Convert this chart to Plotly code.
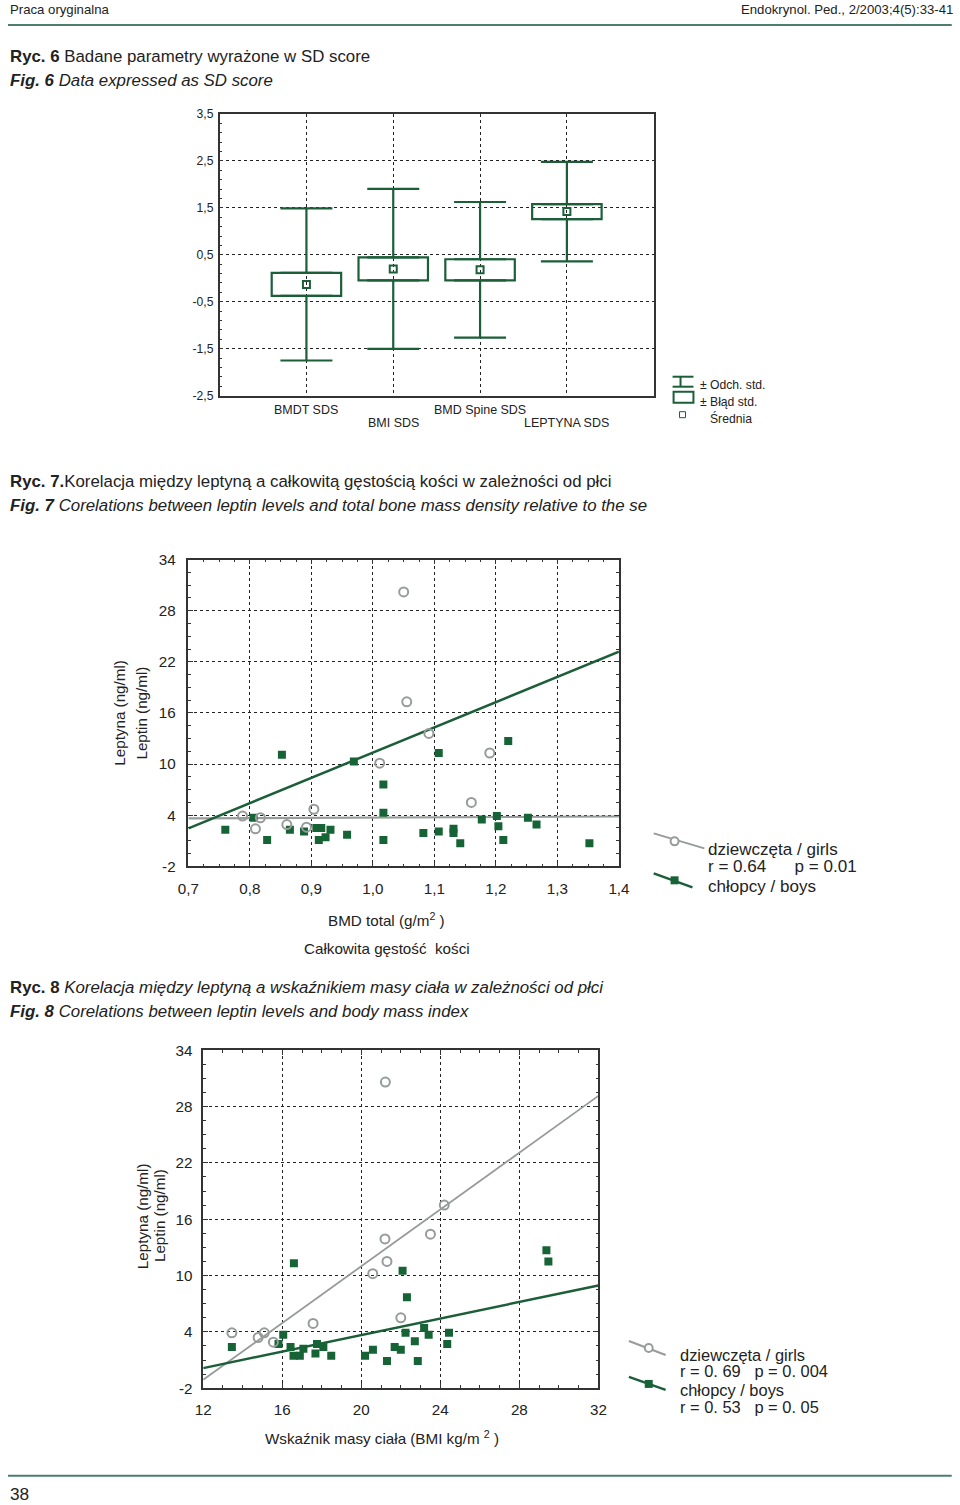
import plotly.graph_objects as go

# The page is photographed with an 8 px body margin and a slight down-scale,
# so reference pixel positions are mapped back into figure coordinates.
W, H = 960, 1505
OFF = 8
SX, SY = 960 / 976, 1505 / 1521
FS = 1 / 0.986   # font compensation for the down-scale

# ---------------- Fig. 6 data (mean, ± SE box, ± SD whiskers) ----------------
box_categories = ["BMDT SDS", "BMI SDS", "BMD Spine SDS", "LEPTYNA SDS"]
box_mean = [-0.13, 0.20, 0.18, 1.42]
box_se = [0.245, 0.245, 0.225, 0.16]
box_sd = [1.62, 1.705, 1.445, 1.06]
box_yticks = [-2.5, -1.5, -0.5, 0.5, 1.5, 2.5, 3.5]
box_ytick_labels = ["-2,5", "-1,5", "-0,5", "0,5", "1,5", "2,5", "3,5"]

# ---------------- Fig. 7 data (leptin vs BMD total) ----------------
girls7_bmd = [1.050, 1.055, 1.011, 0.904, 0.788, 0.817, 0.809, 0.860, 0.892, 1.091, 1.190, 1.160]
girls7_leptin = [30.2, 17.3, 10.1, 4.7, 3.9, 3.7, 2.4, 2.9, 2.6, 13.6, 11.3, 5.5]
boys7_bmd = [0.760, 0.852, 0.806, 0.828, 0.865, 0.888, 0.908, 0.916, 0.931, 0.912,
             0.923, 0.958, 0.969, 1.017, 1.017, 1.017, 1.082, 1.107, 1.107, 1.131,
             1.131, 1.142, 1.177, 1.2015, 1.204, 1.212, 1.220, 1.252, 1.266, 1.352]
boys7_leptin = [2.3, 11.1, 3.7, 1.1, 2.3, 2.1, 2.5, 2.5, 2.3, 1.1,
                1.4, 1.7, 10.3, 7.6, 4.3, 1.1, 1.9, 2.1, 11.3, 2.4,
                1.9, 0.7, 3.5, 3.9, 2.7, 1.1, 12.7, 3.7, 2.9, 0.7]
girls7_fit = (3.40, 0.32)      # intercept, slope
boys7_fit = (-18.28, 29.63)
bmd_range = [0.7, 1.4]
bmd_ticks = [0.7, 0.8, 0.9, 1.0, 1.1, 1.2, 1.3, 1.4]
bmd_tick_labels = ["0,7", "0,8", "0,9", "1,0", "1,1", "1,2", "1,3", "1,4"]
leptin_range = [-2, 34]
leptin_ticks = [-2, 4, 10, 16, 22, 28, 34]
leptin_tick_labels = ["-2", "4", "10", "16", "22", "28", "34"]

# ---------------- Fig. 8 data (leptin vs BMI) ----------------
girls8_bmi = [21.22, 24.20, 21.20, 23.50, 21.30, 20.58, 22.00, 17.56, 13.45, 14.78, 15.09, 15.55]
girls8_leptin = [30.6, 17.5, 13.9, 14.4, 11.5, 10.2, 5.5, 4.9, 3.9, 3.4, 3.9, 2.9]
boys8_bmi = [13.45, 16.59, 16.05, 15.81, 16.42, 16.57, 16.89, 17.07, 17.68, 17.76,
             18.08, 18.48, 20.19, 20.59, 21.30, 21.69, 22.09, 22.31, 22.00, 22.24,
             22.71, 22.86, 23.18, 23.41, 24.44, 24.35, 29.37, 29.47]
boys8_leptin = [2.4, 11.3, 3.7, 2.7, 2.4, 1.45, 1.45, 2.2, 1.7, 2.7,
                2.4, 1.45, 1.45, 2.1, 0.9, 2.4, 10.5, 7.7, 2.1, 3.9,
                3.0, 0.9, 4.4, 3.7, 3.9, 2.7, 12.7, 11.5]
girls8_fit = (-19.25, 1.512)
boys8_fit = (-5.146, 0.4405)
bmi_range = [12, 32]
bmi_ticks = [12, 16, 20, 24, 28, 32]

# ---------------- styling ----------------
GREEN = "#1b5e38"
GREEN_PT = "#166335"
GRAY = "#979c9a"
RULE = "#4d7d6b"
CHART = "Liberation Sans, Arial, sans-serif"
NARROW = "Liberation Sans Narrow, Arial Narrow, Liberation Sans, sans-serif"
TXT = "#222222"


def fx(p):
    return (p - OFF) / SX / W


def fy(p):
    return 1 - (p - OFF) / SY / H


def fs(s):
    return round(s * FS, 2)


fig = go.Figure()

# ---- Fig 6 traces ----
cat_x = list(range(len(box_categories)))
fig.add_trace(go.Bar(
    x=cat_x, base=[m - s for m, s in zip(box_mean, box_se)],
    y=[2 * s for s in box_se], width=0.8,
    marker=dict(color="rgba(255,255,255,0)", line=dict(color=GREEN, width=2.2)),
    xaxis="x", yaxis="y", hoverinfo="skip"))
fig.add_trace(go.Scatter(
    x=cat_x, y=[m + s for m, s in zip(box_mean, box_se)], mode="markers",
    marker=dict(size=1, opacity=0),
    error_y=dict(type="data", symmetric=False,
                 array=[d - s for d, s in zip(box_sd, box_se)],
                 arrayminus=[0] * len(box_sd), width=26, thickness=2.2, color=GREEN),
    xaxis="x", yaxis="y", hoverinfo="skip"))
fig.add_trace(go.Scatter(
    x=cat_x, y=[m - s for m, s in zip(box_mean, box_se)], mode="markers",
    marker=dict(size=1, opacity=0),
    error_y=dict(type="data", symmetric=False, array=[0] * len(box_sd),
                 arrayminus=[d - s for d, s in zip(box_sd, box_se)],
                 width=26, thickness=2.2, color=GREEN),
    xaxis="x", yaxis="y", hoverinfo="skip"))
fig.add_trace(go.Scatter(
    x=cat_x, y=box_mean, mode="markers",
    marker=dict(symbol="square-open", size=7, color=GREEN, line=dict(width=2, color=GREEN)),
    xaxis="x", yaxis="y"))


# ---- scatter panels ----
def add_panel(xa, ya, xr, girls_x, girls_y, boys_x, boys_y, gfit, bfit, gwidth):
    fig.add_trace(go.Scatter(x=xr, y=[gfit[0] + gfit[1] * v for v in xr], mode="lines",
                             line=dict(color=GRAY, width=gwidth), xaxis=xa, yaxis=ya))
    fig.add_trace(go.Scatter(x=xr, y=[bfit[0] + bfit[1] * v for v in xr], mode="lines",
                             line=dict(color=GREEN, width=2.5), xaxis=xa, yaxis=ya))
    fig.add_trace(go.Scatter(x=boys_x, y=boys_y, mode="markers",
                             marker=dict(symbol="square", size=8, color=GREEN_PT),
                             xaxis=xa, yaxis=ya))
    fig.add_trace(go.Scatter(x=girls_x, y=girls_y, mode="markers",
                             marker=dict(symbol="circle-open", size=9, color=GRAY,
                                         line=dict(width=2, color=GRAY)),
                             xaxis=xa, yaxis=ya))


add_panel("x2", "y2", bmd_range, girls7_bmd, girls7_leptin, boys7_bmd, boys7_leptin,
          girls7_fit, boys7_fit, 2.2)
add_panel("x3", "y3", bmi_range, girls8_bmi, girls8_leptin, boys8_bmi, boys8_leptin,
          girls8_fit, boys8_fit, 1.8)

grid = dict(showgrid=True, gridcolor="#222", griddash="dot", gridwidth=1, zeroline=False,
            showline=True, linecolor="#333", linewidth=1.5)

layout_axes = dict(
    xaxis=dict(domain=[fx(218), fx(655)], range=[-1, 4], tickvals=cat_x,
               showticklabels=False, ticks="", mirror=True, anchor="y", **grid),
    yaxis=dict(domain=[fy(395), fy(113)], range=[-2.5, 3.5], tickvals=box_yticks,
               ticktext=box_ytick_labels, ticks="inside", ticklen=4, tickcolor="#333",
               minor=dict(ticks="inside", ticklen=3, dtick=0.2, tick0=-2.5, tickcolor="#333",
                          showgrid=False),
               tickfont=dict(family=CHART, size=fs(12), color=TXT), ticklabelstandoff=2,
               mirror=True, anchor="x", **grid),
    xaxis2=dict(domain=[fx(186.6), fx(620)], range=bmd_range, tickvals=bmd_ticks,
                ticktext=bmd_tick_labels, ticks="inside", ticklen=5, tickcolor="#333",
                minor=dict(ticks="inside", ticklen=3, dtick=0.025, tick0=0.7,
                           tickcolor="#333", showgrid=False),
                tickfont=dict(family=CHART, size=fs(15), color=TXT), ticklabelstandoff=8,
                mirror="allticks", anchor="y2", **grid),
    yaxis2=dict(domain=[fy(866), fy(559)], range=leptin_range, tickvals=leptin_ticks,
                ticktext=leptin_tick_labels, ticks="inside", ticklen=5, tickcolor="#333",
                minor=dict(ticks="inside", ticklen=3, dtick=1.5, tick0=-2,
                           tickcolor="#333", showgrid=False),
                tickfont=dict(family=CHART, size=fs(15), color=TXT), ticklabelstandoff=8,
                mirror="allticks", anchor="x2", **grid),
    xaxis3=dict(domain=[fx(201.5), fx(599.3)], range=bmi_range, tickvals=bmi_ticks,
                ticks="inside", ticklen=5, tickcolor="#333",
                minor=dict(ticks="inside", ticklen=3, dtick=1, tick0=12,
                           tickcolor="#333", showgrid=False),
                tickfont=dict(family=CHART, size=fs(15), color=TXT), ticklabelstandoff=7,
                mirror="allticks", anchor="y3", **grid),
    yaxis3=dict(domain=[fy(1388.3), fy(1050)], range=leptin_range, tickvals=leptin_ticks,
                ticktext=leptin_tick_labels, ticks="inside", ticklen=5, tickcolor="#333",
                minor=dict(ticks="inside", ticklen=3, dtick=1.5, tick0=-2,
                           tickcolor="#333", showgrid=False),
                tickfont=dict(family=CHART, size=fs(15), color=TXT), ticklabelstandoff=6,
                mirror="allticks", anchor="x3", **grid),
)

ann = []


def text(x, y, s, size, family=CHART, xanchor="left", angle=0, color=TXT):
    ann.append(dict(x=fx(x), y=fy(y), xref="paper", yref="paper", text=s, showarrow=False,
                    xanchor=xanchor, yanchor="middle", textangle=angle,
                    font=dict(family=family, size=fs(size), color=color)))


# page header / footer
text(5, 9, "Praca oryginalna", 13, NARROW)
text(958, 9, "Endokrynol. Ped., 2/2003;4(5):33-41", 13, NARROW, xanchor="right")
text(5, 1494, "38", 17, NARROW)

# captions
CAP = 16.6
text(5, 56, "<b>Ryc. 6</b> Badane parametry wyrażone w SD score", CAP, NARROW)
text(5, 80, "<i><b>Fig. 6</b> Data expressed as SD score</i>", CAP, NARROW)
text(5, 481, "<b>Ryc. 7.</b>Korelacja między leptyną a całkowitą gęstością kości w zależności od płci", CAP, NARROW)
text(5, 505, "<i><b>Fig. 7</b> Corelations between leptin levels and total bone mass density relative to the se</i>", CAP, NARROW)
text(5, 987, "<b>Ryc. 8</b> <i>Korelacja między leptyną a wskaźnikiem masy ciała w zależności od płci</i>", CAP, NARROW)
text(5, 1011, "<i><b>Fig. 8</b> Corelations between leptin levels and body mass index</i>", CAP, NARROW)

# Fig 6 category labels (staggered)
for i, c in enumerate(box_categories):
    ann.append(dict(x=i, y=fy(409 if i % 2 == 0 else 422.5), xref="x", yref="paper", text=c,
                    showarrow=False, xanchor="center", yanchor="middle",
                    font=dict(family=CHART, size=fs(12.3), color=TXT)))
# Fig 6 legend text
text(700, 384, "± Odch. std.", 12)
text(700, 401, "± Błąd std.", 12)
text(710, 418, "Średnia", 12)

# Fig 7 titles
text(117, 712, "Leptyna (ng/ml)", 15, angle=-90, xanchor="center")
text(139, 713, "Leptin (ng/ml)", 15, angle=-90, xanchor="center")
text(386, 919, "BMD total (g/m<sup>2</sup> )", 15, xanchor="center")
text(387, 948, "Całkowita gęstość  kości", 15, xanchor="center")
NB = "\u00a0"
text(708, 849, "dziewczęta / girls", 16.8)
text(708, 866, "r = 0.64" + NB * 6 + "p = 0.01", 16.8)
text(708, 886, "chłopcy / boys", 16.8)

# Fig 8 titles
text(140, 1216, "Leptyna (ng/ml)", 15, angle=-90, xanchor="center")
text(157, 1216, "Leptin (ng/ml)", 15, angle=-90, xanchor="center")
text(381, 1438, "Wskaźnik masy ciała (BMI kg/m <sup>2</sup> )", 15, xanchor="center")
text(679, 1355, "dziewczęta / girls", 16.2)
text(679, 1371, "r = 0. 69" + NB * 3 + "p = 0. 004", 16.2)
text(679, 1390, "chłopcy / boys", 16.2)
text(679, 1407, "r = 0. 53" + NB * 3 + "p = 0. 05", 16.2)

shapes = []


def line(x0, y0, x1, y1, color, width):
    shapes.append(dict(type="line", xref="paper", yref="paper", x0=fx(x0), y0=fy(y0),
                       x1=fx(x1), y1=fy(y1), line=dict(color=color, width=width)))


def rect(x0, y0, x1, y1, color, width, fill="white"):
    shapes.append(dict(type="rect", xref="paper", yref="paper", x0=fx(x0), y0=fy(y0),
                       x1=fx(x1), y1=fy(y1), fillcolor=fill, line=dict(color=color, width=width)))


def circle(cx, cy, r, color, width):
    shapes.append(dict(type="circle", xref="paper", yref="paper", x0=fx(cx - r), y0=fy(cy + r),
                       x1=fx(cx + r), y1=fy(cy - r), fillcolor="white",
                       line=dict(color=color, width=width)))


# page rules
line(5, 24, 955, 24, RULE, 2)
line(5, 1476, 955, 1476, RULE, 2)

# Fig 6 legend symbols
line(674, 376, 695, 376, GREEN, 2)
line(674, 386, 695, 386, GREEN, 2)
line(682, 376, 682, 386, GREEN, 2)
rect(675, 391, 695, 402, GREEN, 2)
rect(681, 411, 687, 417, GREEN, 1)

# Fig 7 legend symbols
line(655, 833, 706, 848, GRAY, 2)
circle(676, 841, 4, GRAY, 2)
line(655, 873, 694, 887, GREEN, 2.5)
rect(672, 876, 680, 884, GREEN_PT, 0, fill=GREEN_PT)

# Fig 8 legend symbols
line(630, 1341, 667, 1355, GRAY, 2)
circle(650, 1348, 4, GRAY, 2)
line(630, 1377, 667, 1390, GREEN, 2.5)
rect(646, 1380, 654, 1388, GREEN_PT, 0, fill=GREEN_PT)

fig.update_layout(
    width=W, height=H, margin=dict(l=0, r=0, t=0, b=0, pad=0),
    paper_bgcolor="white", plot_bgcolor="white", showlegend=False,
    annotations=ann, shapes=shapes, **layout_axes)

fig.write_html("out.html")
